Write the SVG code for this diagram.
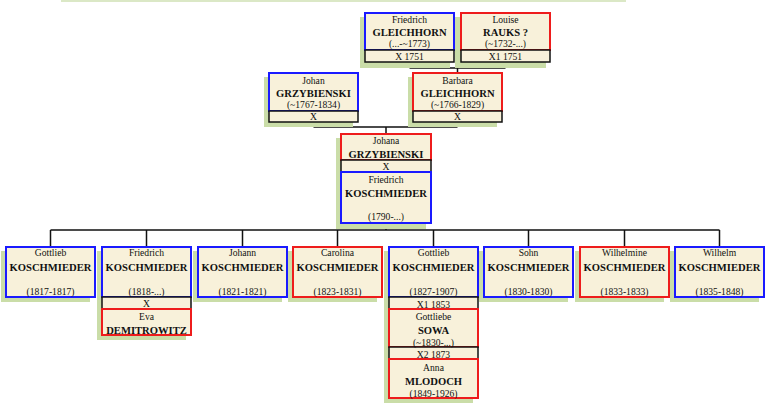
<svg xmlns="http://www.w3.org/2000/svg" width="768" height="403" viewBox="0 0 768 403">
<style>
.sh{fill:#cadda8}
.bx{fill:#f8f1da;stroke-width:2}
.m{stroke:#1a1aff}
.f{stroke:#ee1c1c}
.st{fill:#f8f1da;stroke:#111;stroke-width:1.5}
.cn{fill:none;stroke:#111;stroke-width:1.5}
text{font-family:"Liberation Serif","Times New Roman",serif;text-anchor:middle;fill:#111}
.g{font-size:9.6px}
.s{font-size:10.6px;font-weight:bold}
.d{font-size:9.6px}
</style>
<rect x="61" y="0" width="565" height="2" fill="#dbe8c6"/>
<g id="connectors">
<path class="cn" d="M409.5 62V68M505.5 62V68M409.5 68H505.5M457.5 68V73"/>
<path class="cn" d="M313.5 122V127M457.5 122V127M313.5 127H457.5M386 127V133"/>
<path class="cn" d="M386 224V230M50.5 230H719.5M50.5 230V246M146.5 230V246M242.5 230V246M337.5 230V246M433.5 230V246M528.5 230V246M624.5 230V246M719.5 230V246"/>
</g>
<g id="friedrich_gleichhorn">
<rect class="sh" x="360" y="17" width="90" height="51"/>
<rect class="bx m" x="365" y="13" width="89" height="37"/>
<rect class="st" x="365" y="50" width="89" height="12"/>
<text class="g" x="409.5" y="23">Friedrich</text>
<text class="s" x="409.5" y="36">GLEICHHORN</text>
<text class="d" x="409.5" y="47">(...-~1773)</text>
<text class="d" x="409.5" y="60">X 1751</text>
</g>
<g id="louise_rauks">
<rect class="sh" x="455" y="17" width="91" height="51"/>
<rect class="bx f" x="461" y="13" width="89" height="37"/>
<rect class="st" x="461" y="50" width="89" height="12"/>
<text class="g" x="505.5" y="23">Louise</text>
<text class="s" x="505.5" y="36">RAUKS ?</text>
<text class="d" x="505.5" y="47">(~1732-...)</text>
<text class="d" x="505.5" y="60">X1 1751</text>
</g>
<g id="johan_grzybienski">
<rect class="sh" x="264" y="77" width="89" height="50"/>
<rect class="bx m" x="269" y="73" width="89" height="38"/>
<rect class="st" x="269" y="111" width="89" height="11"/>
<text class="g" x="313.5" y="84">Johan</text>
<text class="s" x="313.5" y="97">GRZYBIENSKI</text>
<text class="d" x="313.5" y="108">(~1767-1834)</text>
<text class="d" x="313.5" y="120">X</text>
</g>
<g id="barbara_gleichhorn">
<rect class="sh" x="408" y="77" width="89" height="50"/>
<rect class="bx f" x="413" y="73" width="89" height="38"/>
<rect class="st" x="413" y="111" width="89" height="11"/>
<text class="g" x="457.5" y="84">Barbara</text>
<text class="s" x="457.5" y="97">GLEICHHORN</text>
<text class="d" x="457.5" y="108">(~1766-1829)</text>
<text class="d" x="457.5" y="120">X</text>
</g>
<g id="johana_friedrich">
<rect class="sh" x="336" y="138" width="90" height="91"/>
<rect class="bx f" x="341" y="134" width="90" height="26"/>
<rect class="st" x="341" y="160" width="90" height="12"/>
<rect class="bx m" x="341" y="172" width="90" height="51"/>
<text class="g" x="386" y="144">Johana</text>
<text class="s" x="386" y="157.5">GRZYBIENSKI</text>
<text class="d" x="386" y="170">X</text>
<text class="g" x="386" y="182.5">Friedrich</text>
<text class="s" x="386" y="197">KOSCHMIEDER</text>
<text class="d" x="386" y="220">(1790-...)</text>
</g>
<g id="gottlieb_1817">
<rect class="sh" x="1" y="251" width="89" height="51"/>
<rect class="bx m" x="6" y="247" width="89" height="50"/>
<text class="g" x="50.5" y="256">Gottlieb</text>
<text class="s" x="50.5" y="271">KOSCHMIEDER</text>
<text class="d" x="50.5" y="295">(1817-1817)</text>
</g>
<g id="friedrich_1818">
<rect class="sh" x="97" y="251" width="89" height="89"/>
<rect class="bx m" x="102" y="247" width="89" height="50"/>
<rect class="st" x="102" y="297" width="89" height="12"/>
<rect class="bx f" x="102" y="309" width="89" height="26"/>
<text class="g" x="146.5" y="256">Friedrich</text>
<text class="s" x="146.5" y="271">KOSCHMIEDER</text>
<text class="d" x="146.5" y="295">(1818-...)</text>
<text class="d" x="146.5" y="307">X</text>
<text class="g" x="146.5" y="320">Eva</text>
<text class="s" x="146.5" y="334">DEMITROWITZ</text>
</g>
<g id="johann_1821">
<rect class="sh" x="193" y="251" width="89" height="51"/>
<rect class="bx m" x="198" y="247" width="89" height="50"/>
<text class="g" x="242.5" y="256">Johann</text>
<text class="s" x="242.5" y="271">KOSCHMIEDER</text>
<text class="d" x="242.5" y="295">(1821-1821)</text>
</g>
<g id="carolina_1823">
<rect class="sh" x="288" y="251" width="89" height="51"/>
<rect class="bx f" x="293" y="247" width="89" height="50"/>
<text class="g" x="337.5" y="256">Carolina</text>
<text class="s" x="337.5" y="271">KOSCHMIEDER</text>
<text class="d" x="337.5" y="295">(1823-1831)</text>
</g>
<g id="gottlieb_1827">
<rect class="sh" x="384" y="251" width="89" height="152"/>
<rect class="bx m" x="389" y="247" width="89" height="50"/>
<rect class="st" x="389" y="297" width="89" height="12"/>
<rect class="bx f" x="389" y="309" width="89" height="38"/>
<rect class="st" x="389" y="347" width="89" height="12"/>
<rect class="bx f" x="389" y="359" width="89" height="39"/>
<text class="g" x="433.5" y="256">Gottlieb</text>
<text class="s" x="433.5" y="271">KOSCHMIEDER</text>
<text class="d" x="433.5" y="295">(1827-1907)</text>
<text class="d" x="433.5" y="307.5">X1 1853</text>
<text class="g" x="433.5" y="320">Gottliebe</text>
<text class="s" x="433.5" y="334">SOWA</text>
<text class="d" x="433.5" y="345.5">(~1830-...)</text>
<text class="d" x="433.5" y="357.5">X2 1873</text>
<text class="g" x="433.5" y="371">Anna</text>
<text class="s" x="433.5" y="385">MLODOCH</text>
<text class="d" x="433.5" y="396.5">(1849-1926)</text>
</g>
<g id="sohn_1830">
<rect class="sh" x="479" y="251" width="89" height="51"/>
<rect class="bx m" x="484" y="247" width="89" height="50"/>
<text class="g" x="528.5" y="256">Sohn</text>
<text class="s" x="528.5" y="271">KOSCHMIEDER</text>
<text class="d" x="528.5" y="295">(1830-1830)</text>
</g>
<g id="wilhelmine_1833">
<rect class="sh" x="575" y="251" width="89" height="51"/>
<rect class="bx f" x="580" y="247" width="89" height="50"/>
<text class="g" x="624.5" y="256">Wilhelmine</text>
<text class="s" x="624.5" y="271">KOSCHMIEDER</text>
<text class="d" x="624.5" y="295">(1833-1833)</text>
</g>
<g id="wilhelm_1835">
<rect class="sh" x="670" y="251" width="89" height="51"/>
<rect class="bx m" x="675" y="247" width="89" height="50"/>
<text class="g" x="719.5" y="256">Wilhelm</text>
<text class="s" x="719.5" y="271">KOSCHMIEDER</text>
<text class="d" x="719.5" y="295">(1835-1848)</text>
</g>
</svg>
